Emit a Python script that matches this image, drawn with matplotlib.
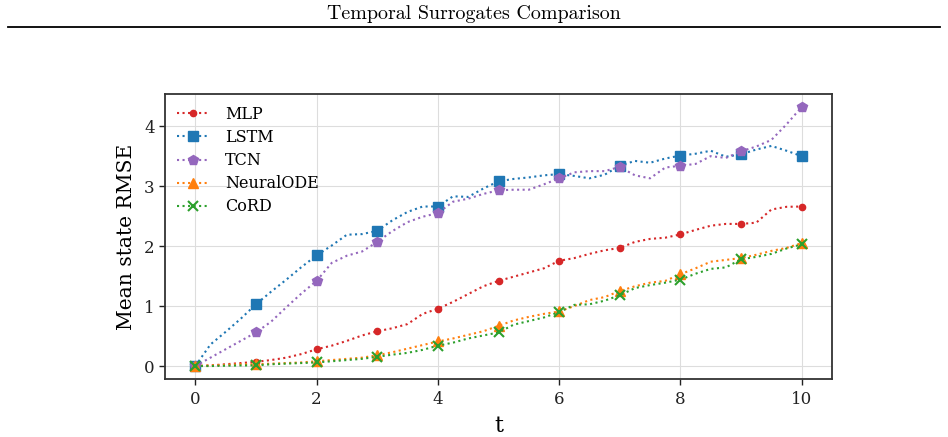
import matplotlib
matplotlib.use("Agg")
import matplotlib.pyplot as plt
from matplotlib.lines import Line2D
import numpy as np

# time grid (quarter steps), markers at integer t
t = [i * 0.25 for i in range(41)]

mlp = [0.00, 0.01, 0.03, 0.05, 0.07, 0.10, 0.14, 0.20, 0.28, 0.34, 0.42, 0.51, 0.58,
       0.63, 0.70, 0.87, 0.955, 1.07, 1.20, 1.33, 1.42, 1.49, 1.56, 1.63, 1.755,
       1.80, 1.87, 1.93, 1.97, 2.07, 2.12, 2.14, 2.195, 2.27, 2.34, 2.37, 2.37,
       2.39, 2.61, 2.655, 2.66]
lstm = [0.00, 0.36, 0.57, 0.79, 1.03, 1.24, 1.44, 1.65, 1.845, 2.01, 2.19, 2.20, 2.255,
        2.43, 2.57, 2.66, 2.66, 2.83, 2.82, 2.96, 3.08, 3.12, 3.145, 3.18, 3.20,
        3.17, 3.13, 3.19, 3.34, 3.42, 3.39, 3.46, 3.51, 3.54, 3.59, 3.49, 3.53,
        3.61, 3.67, 3.59, 3.50]
tcn = [0.00, 0.14, 0.28, 0.42, 0.56, 0.74, 0.98, 1.21, 1.42, 1.72, 1.84, 1.91, 2.07,
       2.25, 2.40, 2.49, 2.55, 2.74, 2.79, 2.87, 2.93, 2.94, 2.94, 3.03, 3.13,
       3.23, 3.25, 3.25, 3.32, 3.18, 3.13, 3.31, 3.34, 3.37, 3.50, 3.47, 3.58,
       3.66, 3.77, 4.03, 4.32]
node = [0.00, 0.01, 0.02, 0.03, 0.03, 0.04, 0.05, 0.06, 0.08, 0.10, 0.12, 0.14, 0.18,
        0.23, 0.29, 0.35, 0.41, 0.46, 0.52, 0.58, 0.67, 0.76, 0.82, 0.87, 0.91,
        1.00, 1.10, 1.15, 1.25, 1.33, 1.39, 1.42, 1.53, 1.63, 1.74, 1.77, 1.80,
        1.855, 1.92, 1.97, 2.05]
cord = [0.00, 0.00, 0.005, 0.01, 0.01, 0.03, 0.04, 0.05, 0.06, 0.08, 0.10, 0.12, 0.155,
        0.19, 0.22, 0.27, 0.34, 0.39, 0.46, 0.51, 0.56, 0.69, 0.75, 0.81, 0.90,
        1.02, 1.03, 1.09, 1.18, 1.30, 1.35, 1.39, 1.44, 1.54, 1.62, 1.645, 1.78,
        1.82, 1.87, 1.96, 2.03]

labels = ["MLP", "LSTM", "TCN", "NeuralODE", "CoRD"]
colors = ["#d62728", "#1f77b4", "#9467bd", "#ff7f0e", "#2ca02c"]
markers = ["o", "s", "p", "^", "x"]
msizes = [4.5, 7, 7, 7, 6.5]
xticks = [0, 2, 4, 6, 8, 10]
yticks = [0, 1, 2, 3, 4]

fig = plt.figure(figsize=(9.48, 4.37), dpi=100)
fig.text(0.5, 1 - 14 / 437, "Temporal Surrogates Comparison", ha="center", va="center",
         fontsize=14.4, family="cmr10")
fig.add_artist(Line2D([8 / 948, 940 / 948], [1 - 27 / 437, 1 - 27 / 437],
                      transform=fig.transFigure, color="black", lw=1.3))

ax = fig.add_axes([165 / 948, 58 / 437, 667 / 948, 285 / 437])
for y, lab, c, m, ms in zip([mlp, lstm, tcn, node, cord], labels, colors, markers, msizes):
    ax.plot(t, y, linestyle=":", lw=1.5, color=c, marker=m, markersize=ms,
            markevery=4, label=lab, mew=1.5 if m == "x" else 1.0)

ax.set_xticks(xticks)
ax.set_yticks(yticks)
ax.grid(True, color="#dddddd", lw=0.8)
ax.set_axisbelow(True)
for s in ax.spines.values():
    s.set_color("#333333")
    s.set_linewidth(1.3)
ax.tick_params(colors="#222222", labelsize=12, length=4, width=1)
ax.tick_params(axis="x", pad=5)
for lab in ax.get_xticklabels() + ax.get_yticklabels():
    lab.set_family("DejaVu Serif")
ax.set_xlabel("t", fontsize=16, family="DejaVu Serif", labelpad=5)
ax.set_ylabel("Mean state RMSE", fontsize=14.6, family="DejaVu Serif", labelpad=6)
leg = ax.legend(loc="upper left", frameon=False, prop={"family": "DejaVu Serif", "size": 11.5},
                handlelength=2.0, handletextpad=1.0, borderaxespad=0.35, labelspacing=0.38)
fig.savefig("out.png", dpi=100)
